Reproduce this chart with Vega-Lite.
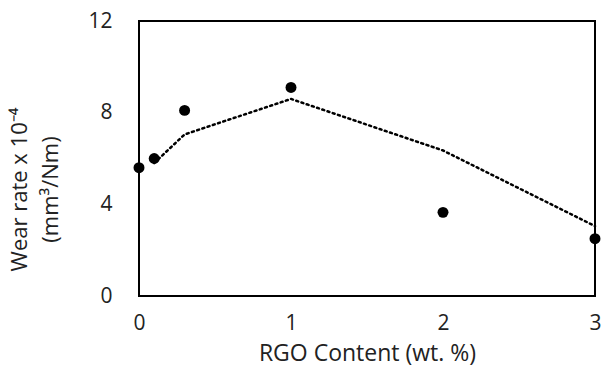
{
  "$schema": "https://vega.github.io/schema/vega-lite/v6.json",
  "width": 456,
  "height": 275,
  "autosize": {"type": "none"},
  "padding": {"left": 139, "top": 21, "right": 8, "bottom": 73},
  "background": "white",
  "config": {
    "view": {"stroke": "black", "strokeWidth": 2},
    "font": "Open Sans",
    "axis": {"grid": false, "ticks": false, "domain": false, "labelFont": "Open Sans", "titleFont": "Open Sans", "labelColor": "#222", "titleColor": "#222", "titleFontWeight": "normal"}
  },
  "data": {
    "values": [
      {"rgo": 0, "wear": 5.6, "trend": null},
      {"rgo": 0.1, "wear": 6.0, "trend": 5.8},
      {"rgo": 0.3, "wear": 8.1, "trend": 7.05},
      {"rgo": 1, "wear": 9.1, "trend": 8.6},
      {"rgo": 2, "wear": 3.65, "trend": 6.35},
      {"rgo": 3, "wear": 2.5, "trend": 3.05}
    ]
  },
  "encoding": {
    "x": {
      "field": "rgo", "type": "quantitative",
      "scale": {"domain": [0, 3], "nice": false},
      "axis": {"values": [0, 1, 2, 3], "title": "RGO Content (wt. %)", "labelFontSize": 21, "titleFontSize": 23, "labelPadding": 16, "titlePadding": 9, "labelFlush": false}
    }
  },
  "layer": [
    {
      "mark": {"type": "line", "color": "black", "strokeWidth": 2.5, "strokeDash": [2, 3.5], "strokeCap": "round"},
      "transform": [{"filter": "datum.trend != null"}],
      "encoding": {
        "y": {"field": "trend", "type": "quantitative", "scale": {"domain": [0, 12], "nice": false},
          "axis": {"values": [0, 4, 8, 12], "title": ["Wear rate x 10⁻⁴", "(mm³/Nm)"], "labelFontSize": 21, "titleFontSize": 22, "labelPadding": 27, "titleX": -120, "titleY": 168, "titleAlign": "center", "titleBaseline": "middle", "titleLineHeight": 31}}
      }
    },
    {
      "mark": {"type": "point", "filled": true, "color": "black", "size": 120, "opacity": 1},
      "encoding": {
        "y": {"field": "wear", "type": "quantitative"}
      }
    }
  ]
}
